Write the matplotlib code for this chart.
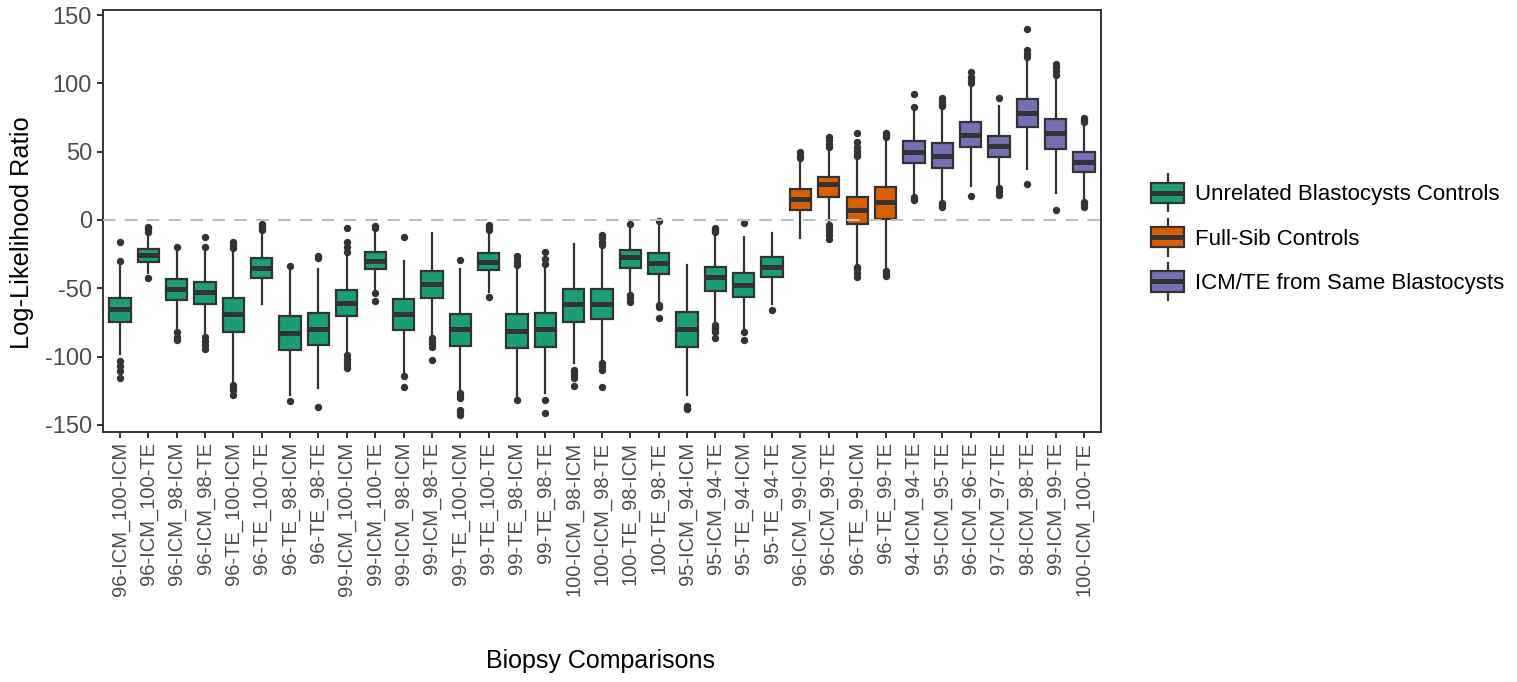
import matplotlib
matplotlib.use("Agg")
import matplotlib.pyplot as plt
from matplotlib.patches import Rectangle
from matplotlib.lines import Line2D
from matplotlib.legend_handler import HandlerBase

plt.rcParams['font.family'] = ['Liberation Sans', 'DejaVu Sans']

categories = [
    "96-ICM_100-ICM", "96-ICM_100-TE", "96-ICM_98-ICM", "96-ICM_98-TE",
    "96-TE_100-ICM", "96-TE_100-TE", "96-TE_98-ICM", "96-TE_98-TE",
    "99-ICM_100-ICM", "99-ICM_100-TE", "99-ICM_98-ICM", "99-ICM_98-TE",
    "99-TE_100-ICM", "99-TE_100-TE", "99-TE_98-ICM", "99-TE_98-TE",
    "100-ICM_98-ICM", "100-ICM_98-TE", "100-TE_98-ICM", "100-TE_98-TE",
    "95-ICM_94-ICM", "95-ICM_94-TE", "95-TE_94-ICM", "95-TE_94-TE",
    "96-ICM_99-ICM", "96-ICM_99-TE", "96-TE_99-ICM", "96-TE_99-TE",
    "94-ICM_94-TE", "95-ICM_95-TE", "96-ICM_96-TE", "97-ICM_97-TE",
    "98-ICM_98-TE", "99-ICM_99-TE", "100-ICM_100-TE",
]
groups = ["Unrelated Blastocysts Controls"] * 24 + ["Full-Sib Controls"] * 4 + \
         ["ICM/TE from Same Blastocysts"] * 7

q1 = [-74.4, -30.5, -58.5, -61.5, -82.4, -42.2, -95.1, -91.7, -70.7, -36.1, -80.5, -57.3,
      -92.2, -36.6, -93.9, -92.7, -74.4, -72.4, -35.4, -39.5, -92.7, -51.7, -56.1, -42.0,
      7.3, 16.6, -3.2, 0.7, 42.0, 38.3, 53.2, 46.3, 68.3, 52.0, 35.4]
median = [-65.4, -25.6, -50.7, -52.4, -69.0, -34.9, -82.9, -79.8, -61.0, -29.8, -69.0, -47.1,
          -80.0, -30.5, -81.0, -79.5, -61.7, -61.5, -27.1, -31.7, -80.0, -41.5, -47.6, -34.1,
          15.4, 26.1, 7.3, 12.9, 50.0, 46.8, 62.0, 54.1, 78.0, 63.9, 42.7]
q3 = [-56.8, -21.5, -42.9, -45.1, -57.0, -28.0, -70.7, -68.3, -51.2, -23.4, -58.0, -37.3,
      -68.8, -24.4, -69.0, -67.8, -50.7, -50.2, -22.2, -24.4, -67.3, -34.4, -39.0, -27.3,
      22.7, 31.5, 17.1, 24.4, 58.0, 56.1, 71.5, 61.7, 88.3, 73.7, 49.5]
whisker_low = [-98.3, -39.0, -80.5, -83.0, -119.5, -61.7, -128.0, -123.2, -97.6, -51.2, -112.2, -85.4,
               -125.6, -52.4, -129.3, -126.8, -104.9, -103.7, -53.7, -61.0, -128.0, -75.6, -80.5, -61.5,
               -13.4, -2.9, -32.9, -36.6, 17.1, 12.2, 24.9, 24.4, 37.1, 19.5, 13.4]
whisker_high = [-33.4, -9.8, -22.0, -23.2, -22.0, -7.3, -36.6, -36.1, -24.4, -9.8, -30.0, -9.3,
                -36.1, -9.8, -34.1, -35.4, -17.8, -19.5, -6.1, -2.9, -32.9, -9.8, -12.7, -9.8,
                43.9, 52.4, 43.9, 59.8, 82.4, 82.9, 98.8, 83.4, 118.3, 104.9, 73.2]
outliers = [
    [-30.0, -16.3, -103.0, -106.8, -110.5, -115.9],
    [-5.0, -6.5, -8.5, -42.7],
    [-19.5, -81.7, -85.4, -87.8],
    [-12.4, -19.5, -85.4, -89.0, -91.5, -94.4],
    [-16.3, -18.0, -20.7, -120.7, -122.5, -124.4, -128.5],
    [-2.9, -4.5, -6.0, -7.3],
    [-33.4, -132.9],
    [-26.1, -28.0, -136.8],
    [-6.1, -16.3, -19.5, -23.2, -98.8, -101.5, -104.0, -106.5, -108.5],
    [-4.1, -6.1, -53.7, -59.3],
    [-12.7, -114.6, -122.0],
    [-86.6, -88.5, -90.5, -92.7, -102.4],
    [-29.5, -126.8, -128.5, -130.5, -139.0, -141.0, -142.7],
    [-4.0, -5.5, -7.3, -56.1],
    [-26.1, -28.0, -30.5, -32.9, -131.7],
    [-23.7, -28.3, -32.2, -131.7, -141.5],
    [-109.8, -111.5, -113.5, -115.9, -121.5],
    [-11.0, -13.5, -16.0, -18.3, -104.9, -107.0, -109.8, -122.7],
    [-3.2, -54.9, -57.0, -59.8],
    [-0.7, -62.2, -63.4, -72.0],
    [-136.6, -137.5, -138.5],
    [-5.6, -7.0, -9.0, -76.8, -78.5, -80.0, -81.7, -86.6],
    [-2.0, -81.7, -87.8],
    [-65.9],
    [45.1, 46.5, 50.0],
    [53.7, 56.0, 58.5, 61.0, -4.0, -6.0, -8.0, -11.0, -13.9],
    [47.0, 48.5, 50.5, 53.5, 57.0, 63.9, -34.1, -36.0, -38.5, -41.5],
    [60.5, 62.0, 63.9, -37.5, -39.0, -41.0],
    [82.4, 92.0, 17.0, 15.5, 14.6],
    [83.4, 85.0, 87.5, 89.5, 12.2, 11.0, 9.8],
    [100.0, 102.5, 105.0, 108.5, 17.6],
    [89.5, 23.2, 21.0, 18.3],
    [119.5, 121.5, 124.4, 140.2, 26.6],
    [106.0, 109.0, 112.0, 114.6, 7.3],
    [72.0, 73.5, 74.4, 12.9, 11.5, 9.8],
]

group_colors = {
    "Unrelated Blastocysts Controls": "#1B9E77",
    "Full-Sib Controls": "#D95F02",
    "ICM/TE from Same Blastocysts": "#7570B3",
}
EDGE = "#333333"

fig = plt.figure(figsize=(15.17, 6.82), dpi=100)
ax = fig.add_axes([103 / 1517, 1 - 432 / 682, (1101 - 103) / 1517, (432 - 10) / 682])

stats = []
for i, cat in enumerate(categories):
    stats.append(dict(label=cat, q1=q1[i], med=median[i], q3=q3[i],
                      whislo=whisker_low[i], whishi=whisker_high[i], fliers=outliers[i]))

positions = list(range(len(categories)))
bp = ax.bxp(stats, positions=positions, widths=0.75, patch_artist=True, showcaps=False,
            boxprops=dict(edgecolor=EDGE, linewidth=1.6),
            whiskerprops=dict(color=EDGE, linewidth=1.6),
            medianprops=dict(color=EDGE, linewidth=3.6, solid_capstyle='butt'),
            flierprops=dict(marker='o', markerfacecolor=EDGE, markeredgecolor=EDGE,
                            markersize=4.3, linestyle='none'))
for patch, g in zip(bp['boxes'], groups):
    patch.set_facecolor(group_colors[g])

ax.axhline(0, color="#BEBEBE", linestyle=(0, (6, 4.5)), linewidth=1.5, zorder=5)

ax.set_xlim(-0.6, len(categories) - 0.4)
ax.set_ylim(-155.3, 153.8)
ax.set_yticks([-150, -100, -50, 0, 50, 100, 150])
ax.set_yticklabels(["-150", "-100", "-50", "0", "50", "100", "150"])
ax.set_xticks(positions)
ax.set_xticklabels(categories, rotation=90, ha='center', va='top')
ax.tick_params(axis='both', direction='out', length=4.5, width=1.4, color=EDGE,
               labelcolor="#4D4D4D")
ax.tick_params(axis='x', labelsize=14.5, pad=2.5)
ax.tick_params(axis='y', labelsize=17, pad=3.5)
for sp in ax.spines.values():
    sp.set_color(EDGE)
    sp.set_linewidth(1.4)

ax.set_ylabel("Log-Likelihood Ratio", fontsize=18.3, color="black")
ax.yaxis.set_label_coords((34 - 103) / 998, (432 - 232.5) / 422)
fig.text(600 / 1517, 1 - 661 / 682, "Biopsy Comparisons", fontsize=18, ha='center', va='center')


class BoxHandler(HandlerBase):
    def create_artists(self, legend, orig_handle, xdescent, ydescent, width, height, fontsize, trans):
        color = orig_handle.get_facecolor()
        cx = -xdescent + width / 2
        bw = width
        bh = height * 0.95
        y0 = -ydescent + (height - bh) / 2
        top = y0 + bh + 6
        bot = y0 - 6
        rect = Rectangle((cx - bw / 2, y0), bw, bh, facecolor=color, edgecolor=EDGE,
                         linewidth=1.6, transform=trans)
        w1 = Line2D([cx, cx], [y0 + bh, top], color=EDGE, linewidth=1.6, transform=trans)
        w2 = Line2D([cx, cx], [bot, y0], color=EDGE, linewidth=1.6, transform=trans)
        med = Line2D([cx - bw / 2, cx + bw / 2], [y0 + bh / 2, y0 + bh / 2], color=EDGE,
                     linewidth=3.6, solid_capstyle='butt', transform=trans)
        return [w1, w2, rect, med]


handles = [Rectangle((0, 0), 1, 1, facecolor=c) for c in group_colors.values()]
leg = fig.legend(handles, list(group_colors.keys()), handler_map={Rectangle: BoxHandler()},
                 loc='center left', bbox_to_anchor=(1131 / 1517, 1 - 238 / 682),
                 frameon=False, fontsize=16, handlelength=1.5, handleheight=1.1,
                 handletextpad=0.5, labelspacing=0.95)

fig.savefig("out.png", dpi=100)
